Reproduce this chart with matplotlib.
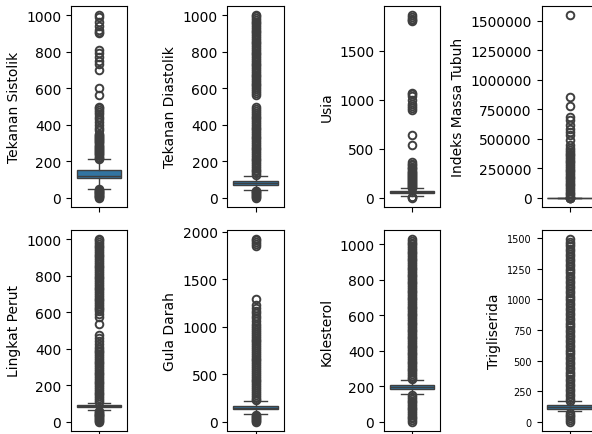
import matplotlib
matplotlib.use("Agg")
import matplotlib.pyplot as plt

# column names (y labels)
columns = ["Tekanan Sistolik", "Tekanan Diastolik", "Usia", "Indeks Massa Tubuh",
           "Lingkat Perut", "Gula Darah", "Kolesterol", "Trigliserida"]

# box stats: q1, median, q3, lower whisker, upper whisker
q1 = [110, 72, 48, 21, 80, 132, 186, 108]
med = [122, 80, 58, 24, 85, 150, 195, 122]
q3 = [150, 92, 70, 28, 90, 167, 206, 134]
whis_lo = [50, 42, 16, 11, 65, 80, 156, 88]
whis_hi = [210, 122, 102, 38, 105, 219, 236, 167]

# outliers
fl_sistolik = [0, 4, 8, 12, 16, 20, 24, 28, 32, 36, 40, 44, 46,
               214, 220, 226, 232, 238, 244, 250, 256, 262, 268, 274, 280, 286, 292,
               298, 304, 310, 316, 322, 328, 334, 340, 346, 352,
               370, 385, 400, 415, 430, 445, 460, 470, 480, 490, 500, 565, 600,
               700, 730, 750, 770, 795, 810, 900, 910, 920, 940, 960, 990, 1000]
fl_diastolik = [0, 5, 10, 15, 20, 25, 30, 35, 40,
                125, 135, 145, 155, 165, 175, 185, 195, 205, 215, 225, 235, 245, 255,
                265, 275, 285, 295, 305, 315, 325, 335, 345, 355, 365, 375, 385, 395,
                405, 415, 425, 435, 445, 455, 465, 475, 485, 495,
                565, 575, 585, 595, 605, 615, 625, 635, 645, 655, 665, 675, 685, 695,
                705, 715, 725, 735, 745, 755, 765, 775, 785, 795, 805, 815, 825, 835,
                845, 855, 865, 875, 885, 895, 905, 915, 925, 935, 945, 955, 965, 975,
                985, 995, 1000]
fl_usia = [0, 5, 10,
           105, 115, 125, 135, 145, 155, 165, 175, 185, 195, 205, 215, 225, 235,
           245, 255, 265, 275, 290, 305, 320, 335, 350, 365,
           540, 640, 900, 920, 940, 960, 1000, 1040, 1060, 1075,
           1810, 1820, 1830, 1850, 1865]
fl_imt = [0, 3, 6, 45,
          15000, 30000, 45000, 60000, 75000, 90000, 105000, 120000, 135000, 150000,
          165000, 180000, 195000, 210000, 225000, 240000, 255000, 270000, 285000,
          300000, 315000, 330000, 345000, 360000, 375000, 390000, 405000, 420000,
          450000, 490000, 535000, 555000, 580000, 620000, 660000, 685000,
          775000, 855000, 1547000]
fl_perut = [0, 5, 10, 15, 20, 25, 30, 35, 40, 45, 50, 55, 60,
            110, 120, 130, 140, 150, 160, 170, 180, 190, 200, 210, 220, 230, 240,
            250, 260, 270, 280, 290, 300, 310, 320, 330, 340, 350, 360, 370, 380,
            390, 400, 410, 425, 445, 460, 475, 535, 575, 590,
            605, 615, 625, 635, 645, 655, 665, 675, 685, 695, 705, 715, 725, 735,
            745, 755, 765, 775, 785, 795, 805, 815, 825, 835, 845, 855, 865, 875,
            885, 895, 905, 915, 925, 935, 945, 955, 965, 975, 985, 995, 1000]
fl_gula = [0, 10, 20, 30, 40, 50, 60, 70,
           225, 245, 265, 285, 305, 325, 345, 365, 385, 405, 425, 445, 465, 485,
           505, 525, 545, 565, 585, 605, 625, 645, 665, 685, 705, 725, 745, 765,
           785, 805, 825, 845, 865, 885, 905, 925, 945, 965, 985, 1005,
           1030, 1060, 1090, 1110, 1140, 1170, 1200, 1230, 1290,
           1850, 1870, 1890, 1910, 1920]
fl_kolesterol = [0, 10, 20, 30, 40, 50, 60, 70, 80, 90, 100, 110, 120, 130, 140, 150,
                 240, 250, 260, 270, 280, 290, 300, 310, 320, 330, 340, 350, 360, 370,
                 380, 390, 400, 410, 420, 430, 440, 450, 460, 470, 480, 490, 500, 510,
                 520, 530, 540, 550, 560, 570, 580, 590, 600, 610, 620, 630, 640, 650,
                 660, 670, 680, 690, 700, 710, 720, 730, 740, 750, 760, 770, 780, 790,
                 800, 810, 820, 830, 840, 850, 860, 870, 880, 890, 900, 910, 920, 930,
                 940, 950, 960, 970, 980, 990, 1000, 1010, 1020, 1030]
fl_trigliserida = [0, 15, 30, 45, 60, 75,
                   170, 190, 210, 230, 250, 270, 290, 310, 330, 350, 370, 390, 410,
                   430, 450, 470, 490, 510, 530, 550, 570, 590, 610, 630, 650, 670,
                   690, 710, 730, 750, 770, 790, 810, 830, 850, 870, 890, 910, 930,
                   950, 970, 990, 1010, 1030, 1050, 1070, 1090, 1110, 1130, 1150, 1170,
                   1190, 1210, 1230, 1250, 1270, 1290, 1310, 1330, 1350, 1370, 1390,
                   1410, 1430, 1450, 1470, 1490]
fliers = [fl_sistolik, fl_diastolik, fl_usia, fl_imt,
          fl_perut, fl_gula, fl_kolesterol, fl_trigliserida]

tri_ticks = [0, 250, 500, 750, 1000, 1250, 1500]

box_color = "#3274a1"
line_color = "#3f3f3f"

W, H = 592, 435
fig = plt.figure(figsize=(W / 100, H / 100), dpi=100)

# axes placement in pixels (left, top); last column runs off the right edge
lefts = [71, 227.5, 384, 541.5]
tops = [7, 231]
ax_w, ax_h = 56, 201

for i, name in enumerate(columns):
    r, c = divmod(i, 4)
    ax = fig.add_axes([lefts[c] / W, (H - tops[r] - ax_h) / H, ax_w / W, ax_h / H])
    stats = [dict(q1=q1[i], med=med[i], q3=q3[i], whislo=whis_lo[i],
                  whishi=whis_hi[i], fliers=fliers[i])]
    ax.bxp(stats, positions=[0], widths=0.8, capwidths=0.4, patch_artist=True,
           boxprops=dict(facecolor=box_color, edgecolor=line_color, linewidth=1.0),
           medianprops=dict(color=line_color, linewidth=1.0),
           whiskerprops=dict(color=line_color, linewidth=1.0),
           capprops=dict(color=line_color, linewidth=1.0),
           flierprops=dict(marker="o", markersize=5.5, markerfacecolor="none",
                           markeredgecolor=line_color, markeredgewidth=1.4))
    ax.set_xlim(-0.5, 0.5)
    ax.set_xticks([0])
    ax.set_xticklabels([""])
    ax.set_ylabel(name, fontsize=10)
    if name == "Indeks Massa Tubuh":
        ax.ticklabel_format(style="plain", axis="y", useOffset=False)
    if name == "Trigliserida":
        ax.set_yticks(tri_ticks)
        ax.tick_params(axis="y", labelsize=7)
    else:
        ax.tick_params(axis="y", labelsize=10)

fig.savefig("out.png", dpi=100)
